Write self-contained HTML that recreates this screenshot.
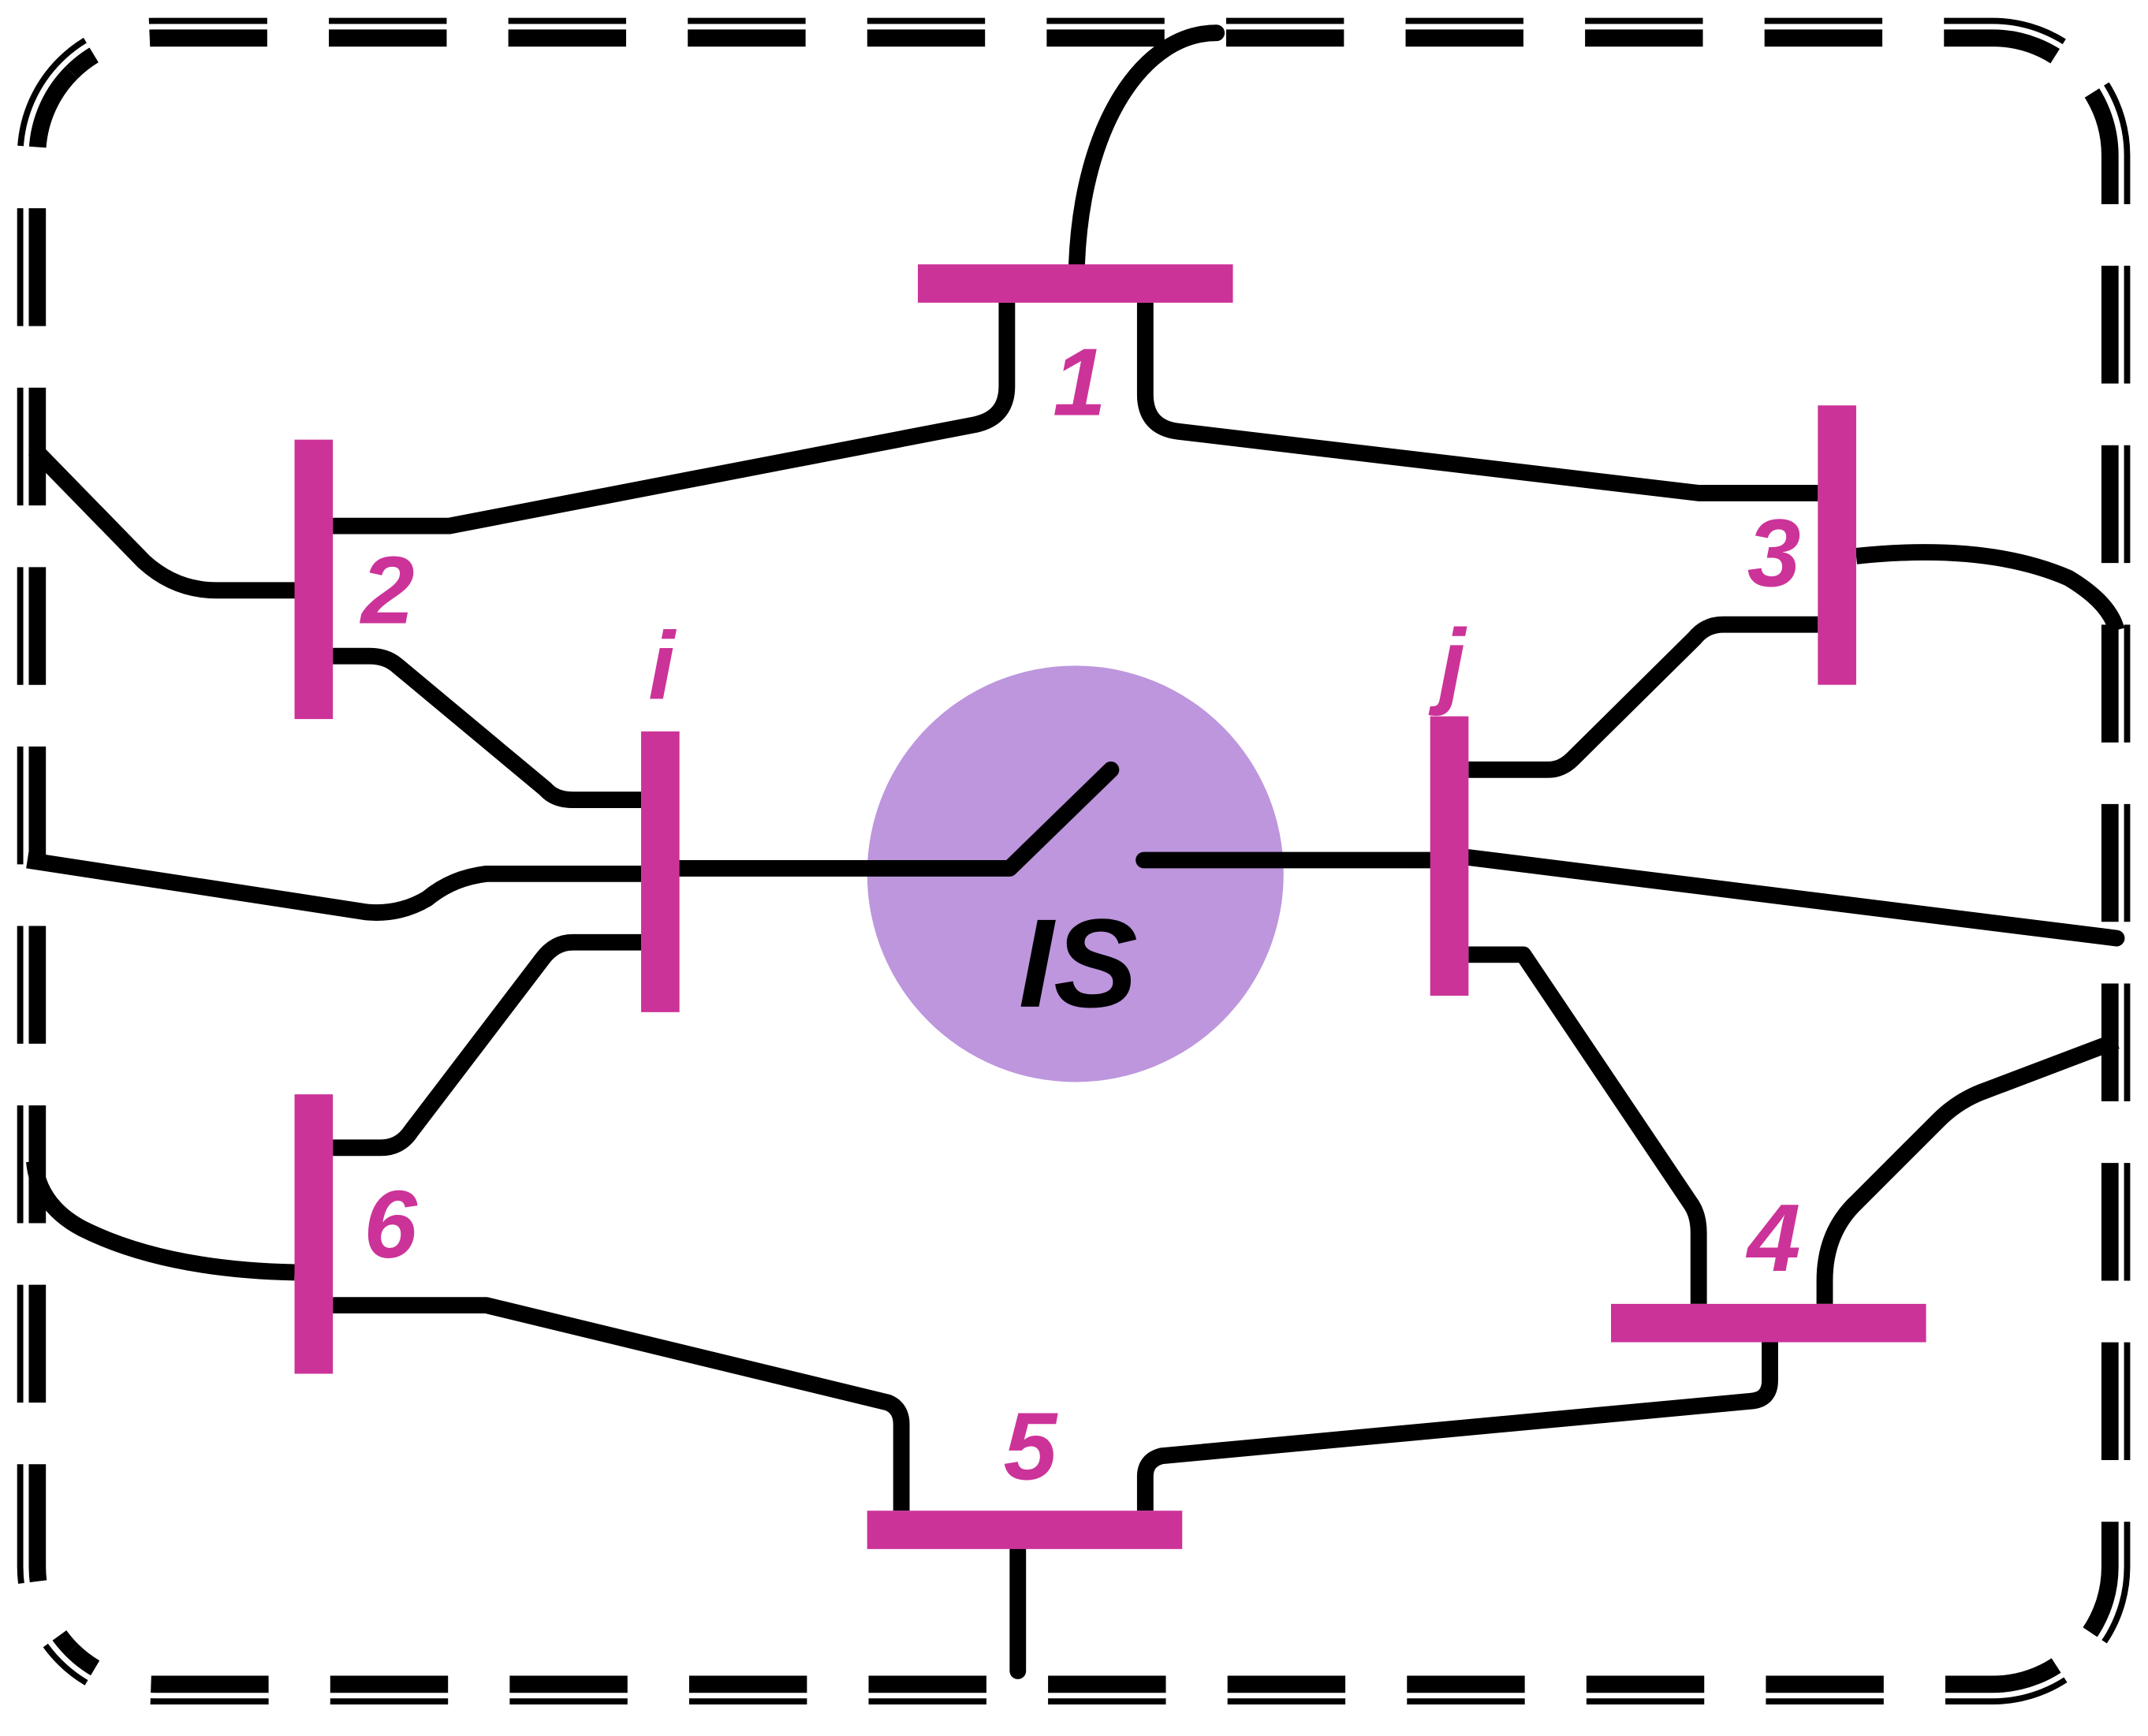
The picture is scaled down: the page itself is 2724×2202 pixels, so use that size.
<!DOCTYPE html>
<html><head><meta charset="utf-8"><style>
html,body{margin:0;padding:0;background:#fff}
svg{display:block}
text{font-family:"Liberation Sans",sans-serif;font-weight:bold;font-style:italic}
</style></head><body>
<svg width="2724" height="2202" viewBox="0 0 1568 1267.5" preserveAspectRatio="none" xmlns="http://www.w3.org/2000/svg">
<g fill="none" stroke="#000" stroke-width="21" stroke-dasharray="86 45">
<path d="M49.4,49.9 A90,90 0 0 1 113,23.5 L1454.5,23.5 A90,90 0 0 1 1518.1,49.9" stroke-dashoffset="64.3"/>
<path d="M49.4,49.9 A90,90 0 0 0 23,113.5 L23,1144 A90,90 0 0 0 49.4,1207.6" stroke-dashoffset="21.8"/>
<path d="M1518.1,49.9 A90,90 0 0 1 1544.5,113.5 L1544.5,1144 A90,90 0 0 1 1518.1,1207.6" stroke-dashoffset="110.8"/>
<path d="M49.4,1207.6 A90,90 0 0 0 113,1234 L1454.5,1234 A90,90 0 0 0 1518.1,1207.6" stroke-dashoffset="63.3"/>
</g>
<rect x="19" y="19.5" width="1529.5" height="1218.5" rx="94" ry="94" fill="none" stroke="#fff" stroke-width="4"/>
<circle cx="785" cy="638" r="152" fill="#BD96DD"/>
<g fill="none" stroke="#000" stroke-width="12" stroke-linecap="butt" stroke-linejoin="round">
<path d="M786,193 C790,90 835,24 888,24" stroke-linecap="round"/>
<path d="M735,221 V282 Q735,305 712,310 L328,384 H243"/>
<path d="M836,221 V288 Q836,312 860,315 L1240,360 H1327"/>
<path d="M215,431 H158 Q128,431 105,410 L25,328"/>
<path d="M243,479 H270 Q282,479 290,486 L398,576 Q405,584 418,584 H468"/>
<path d="M20,628 L268,666 Q292,668 312,656 Q330,641 355,638 H468"/>
<path d="M468,688 H418 Q405,688 396,700 L300,826 Q292,838 278,838 H243"/>
<path d="M496,634 H737 L811,562" stroke-linecap="round"/>
<path d="M835,628 H1044" stroke-linecap="round"/>
<path d="M1072,562 H1130 Q1140,562 1148,554 L1237,466 Q1245,456 1258,456 H1327"/>
<path d="M1072,626 L1545,685" stroke-linecap="round"/>
<path d="M1072,697 H1112 L1235,880 Q1240,888 1240,900 V952"/>
<path d="M1355,406 Q1450,396 1510,422 Q1540,440 1545,460"/>
<path d="M1332,952 V935 Q1332,900 1355,878 L1415,818 Q1430,803 1450,796 L1545,760"/>
<path d="M1292,980 V1008 Q1292,1022 1278,1023 L848,1063 Q836,1066 836,1078 V1103"/>
<path d="M215,929 Q120,927 60,897 Q28,880 25,848"/>
<path d="M243,953 H355 L648,1024 Q658,1028 658,1040 V1103"/>
<path d="M743,1131 V1220" stroke-linecap="round"/>
</g>
<g fill="#CC3399">
<rect x="670" y="193" width="230" height="28"/>
<rect x="215" y="321" width="28" height="204"/>
<rect x="1327" y="296" width="28" height="204"/>
<rect x="468" y="534" width="28" height="205"/>
<rect x="1044" y="523" width="28" height="204"/>
<rect x="215" y="799" width="28" height="204"/>
<rect x="1176" y="952" width="230" height="28"/>
<rect x="633" y="1103" width="230" height="28"/>
</g>
<g fill="#CC3399" font-size="70" text-anchor="middle">
<text x="788" y="303">1</text>
<text x="283" y="455">2</text>
<text x="1295" y="428">3</text>
<text x="483" y="510">i</text>
<text x="1060" y="508">j</text>
<text x="1295" y="928">4</text>
<text x="752" y="1080">5</text>
<text x="285" y="918">6</text>
</g>
<text x="787" y="735" font-size="92" text-anchor="middle" fill="#000">IS</text>
</svg>
</body></html>
